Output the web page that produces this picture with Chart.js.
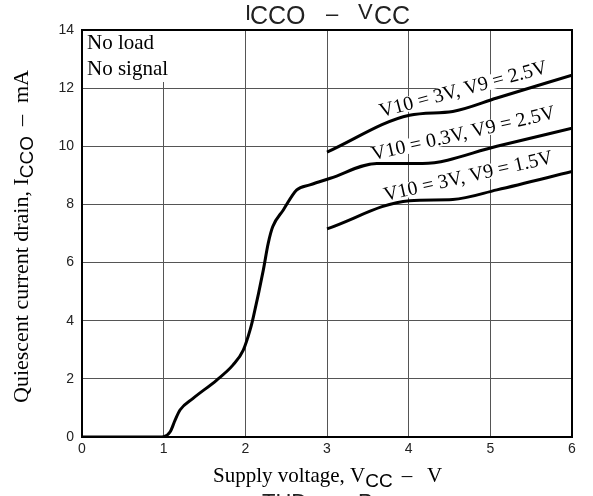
<!DOCTYPE html>
<html>
<head>
<meta charset="utf-8">
<script src="https://cdn.jsdelivr.net/npm/chart.js@4/dist/chart.umd.min.js"></script>
<style>
html,body{margin:0;padding:0;background:#fff;}
canvas{display:block;}
</style>
</head>
<body>
<canvas id="c" width="593" height="496"></canvas>
<script>
// ---- data ----
const xTicks = [0, 1, 2, 3, 4, 5, 6];
const yTicks = [0, 2, 4, 6, 8, 10, 12, 14];

// V10 = 0.3V, V9 = 2.5V (full curve from 0 V)
const midX = [0, 0.5, 0.95, 1.0, 1.08, 1.14, 1.2, 1.36, 1.65, 1.85, 1.975, 2.06, 2.1, 2.22, 2.28, 2.335, 2.465, 2.63, 2.79, 3.04, 3.61, 4.17, 5.08, 6.0];
const midY = [0, 0, 0, 0.01, 0.18, 0.58, 0.93, 1.33, 1.96, 2.48, 2.99, 3.7, 4.15, 5.74, 6.66, 7.23, 7.81, 8.5, 8.67, 8.9, 9.41, 9.41, 10.0, 10.62];

// V10 = 3V, V9 = 2.5V
const upX = [3.0, 4.01, 4.54, 5.08, 6.0];
const upY = [9.8, 11.07, 11.2, 11.66, 12.45];

// V10 = 3V, V9 = 1.5V
const lowX = [3.0, 4.01, 4.54, 5.08, 6.0];
const lowY = [7.16, 8.13, 8.17, 8.5, 9.13];

const curveLabels = ["V10 = 3V, V9 = 2.5V", "V10 = 0.3V, V9 = 2.5V", "V10 = 3V, V9 = 1.5V"];
const labelX = [4.67, 4.67, 4.73];
const labelY = [11.94, 10.42, 8.95];
const labelAngle = [-15, -13, -12.8];

const noteLines = ["No load", "No signal"];

function pts(xs, ys) { return xs.map((x, i) => ({x: x, y: ys[i]})); }

const SERIF = '"Liberation Serif", "DejaVu Serif", serif';
const SANS = '"Liberation Sans", Arial, sans-serif';

const decor = {
  id: 'decor',
  beforeDatasetsDraw(chart) {
    const ctx = chart.ctx, a = chart.chartArea;
    const xs = chart.scales.x, ys = chart.scales.y;
    ctx.save();
    ctx.fillStyle = '#fff';
    // white box behind notes
    ctx.fillRect(a.left + 1, a.top + 1, 86, 51);
    // white boxes behind rotated curve labels
    ctx.font = '20px ' + SERIF;
    curveLabels.forEach((t, i) => {
      const w = ctx.measureText(t).width;
      ctx.save();
      ctx.translate(xs.getPixelForValue(labelX[i]), ys.getPixelForValue(labelY[i]));
      ctx.rotate(labelAngle[i] * Math.PI / 180);
      ctx.fillRect(-w / 2 - 2, -8, w + 4, 15);
      ctx.restore();
    });
    ctx.restore();
  },
  afterDraw(chart) {
    const ctx = chart.ctx, a = chart.chartArea;
    const xs = chart.scales.x, ys = chart.scales.y;
    ctx.save();
    // frame
    ctx.strokeStyle = '#000';
    ctx.lineWidth = 2;
    ctx.strokeRect(a.left, a.top, a.right - a.left, a.bottom - a.top);

    ctx.fillStyle = '#000';
    ctx.textBaseline = 'alphabetic';
    ctx.textAlign = 'left';
    // notes
    ctx.font = '21px ' + SERIF;
    ctx.fillText(noteLines[0], a.left + 5, a.top + 19);
    ctx.fillText(noteLines[1], a.left + 5, a.top + 45);

    // curve labels
    ctx.font = '20px ' + SERIF;
    ctx.textAlign = 'center';
    ctx.textBaseline = 'middle';
    curveLabels.forEach((t, i) => {
      ctx.save();
      ctx.translate(xs.getPixelForValue(labelX[i]), ys.getPixelForValue(labelY[i]));
      ctx.rotate(labelAngle[i] * Math.PI / 180);
      ctx.fillText(t, 0, 0);
      ctx.restore();
    });

    ctx.textAlign = 'left';
    ctx.textBaseline = 'alphabetic';
    ctx.fillStyle = '#222';
    // title  I_CCO – V_CC
    ctx.font = '22px ' + SANS;
    ctx.fillText('I', 245, 20);
    ctx.font = '25px ' + SANS;
    ctx.fillText('CCO', 250, 24);
    ctx.font = '22px ' + SANS;
    ctx.fillText('–', 326, 21);
    ctx.fillText('V', 358, 19);
    ctx.font = '25px ' + SANS;
    ctx.fillText('CC', 374, 24);

    // bottom cut-off title  THD – Po
    ctx.font = '22px ' + SANS;
    ctx.fillText('THD', 262, 509);
    ctx.fillText('–', 326, 509);
    ctx.fillText('P', 358, 509);
    ctx.font = '19px ' + SANS;
    ctx.fillText('O', 374, 514);

    // x axis title
    ctx.fillStyle = '#000';
    ctx.font = '21px ' + SERIF;
    let s1 = 'Supply voltage, V';
    ctx.fillText(s1, 213, 482);
    let x1 = 213 + ctx.measureText(s1).width;
    ctx.font = '19px ' + SANS;
    ctx.fillText('CC', x1, 487);
    x1 += ctx.measureText('CC').width;
    ctx.font = '21px ' + SERIF;
    ctx.fillText('–', x1 + 9, 482);
    ctx.fillText('V', 427, 482);

    // y axis title (rotated)
    ctx.save();
    ctx.translate(28, 403);
    ctx.rotate(-Math.PI / 2);
    ctx.font = '22px ' + SERIF;
    let s2 = 'Quiescent current drain, I';
    ctx.fillText(s2, 0, 0);
    let p = ctx.measureText(s2).width;
    ctx.font = '19px ' + SANS;
    ctx.fillText('CCO', p, 5);
    p += ctx.measureText('CCO').width;
    ctx.font = '22px ' + SERIF;
    ctx.fillText('–', p + 10, 0);
    ctx.fillText('mA', p + 33, 0);
    ctx.restore();

    ctx.restore();
  }
};

const lineStyle = {
  borderColor: '#000',
  borderWidth: 3,
  pointRadius: 0,
  fill: false,
  cubicInterpolationMode: 'monotone'
};

new Chart(document.getElementById('c'), {
  type: 'line',
  data: {
    datasets: [
      Object.assign({label: curveLabels[1], data: pts(midX, midY)}, lineStyle),
      Object.assign({label: curveLabels[0], data: pts(upX, upY)}, lineStyle),
      Object.assign({label: curveLabels[2], data: pts(lowX, lowY)}, lineStyle)
    ]
  },
  options: {
    responsive: false,
    animation: false,
    devicePixelRatio: 1,
    layout: {padding: {top: 30, right: 21, left: 0, bottom: 0}},
    plugins: {legend: {display: false}, tooltip: {enabled: false}, title: {display: false}},
    scales: {
      x: {
        type: 'linear',
        min: xTicks[0], max: xTicks[xTicks.length - 1],
        afterBuildTicks: (s) => { s.ticks = xTicks.map(v => ({value: v})); },
        afterFit: (s) => { s.height = 59; },
        grid: {color: '#555', lineWidth: 1, drawTicks: false},
        border: {display: false},
        ticks: {padding: 4, color: '#222', font: {family: SANS, size: 14}, maxRotation: 0}
      },
      y: {
        type: 'linear',
        min: yTicks[0], max: yTicks[yTicks.length - 1],
        afterBuildTicks: (s) => { s.ticks = yTicks.map(v => ({value: v})); },
        afterFit: (s) => { s.width = 82; },
        grid: {color: '#555', lineWidth: 1, drawTicks: false},
        border: {display: false},
        ticks: {padding: 8, color: '#222', font: {family: SANS, size: 14}}
      }
    }
  },
  plugins: [decor]
});
</script>
</body>
</html>
